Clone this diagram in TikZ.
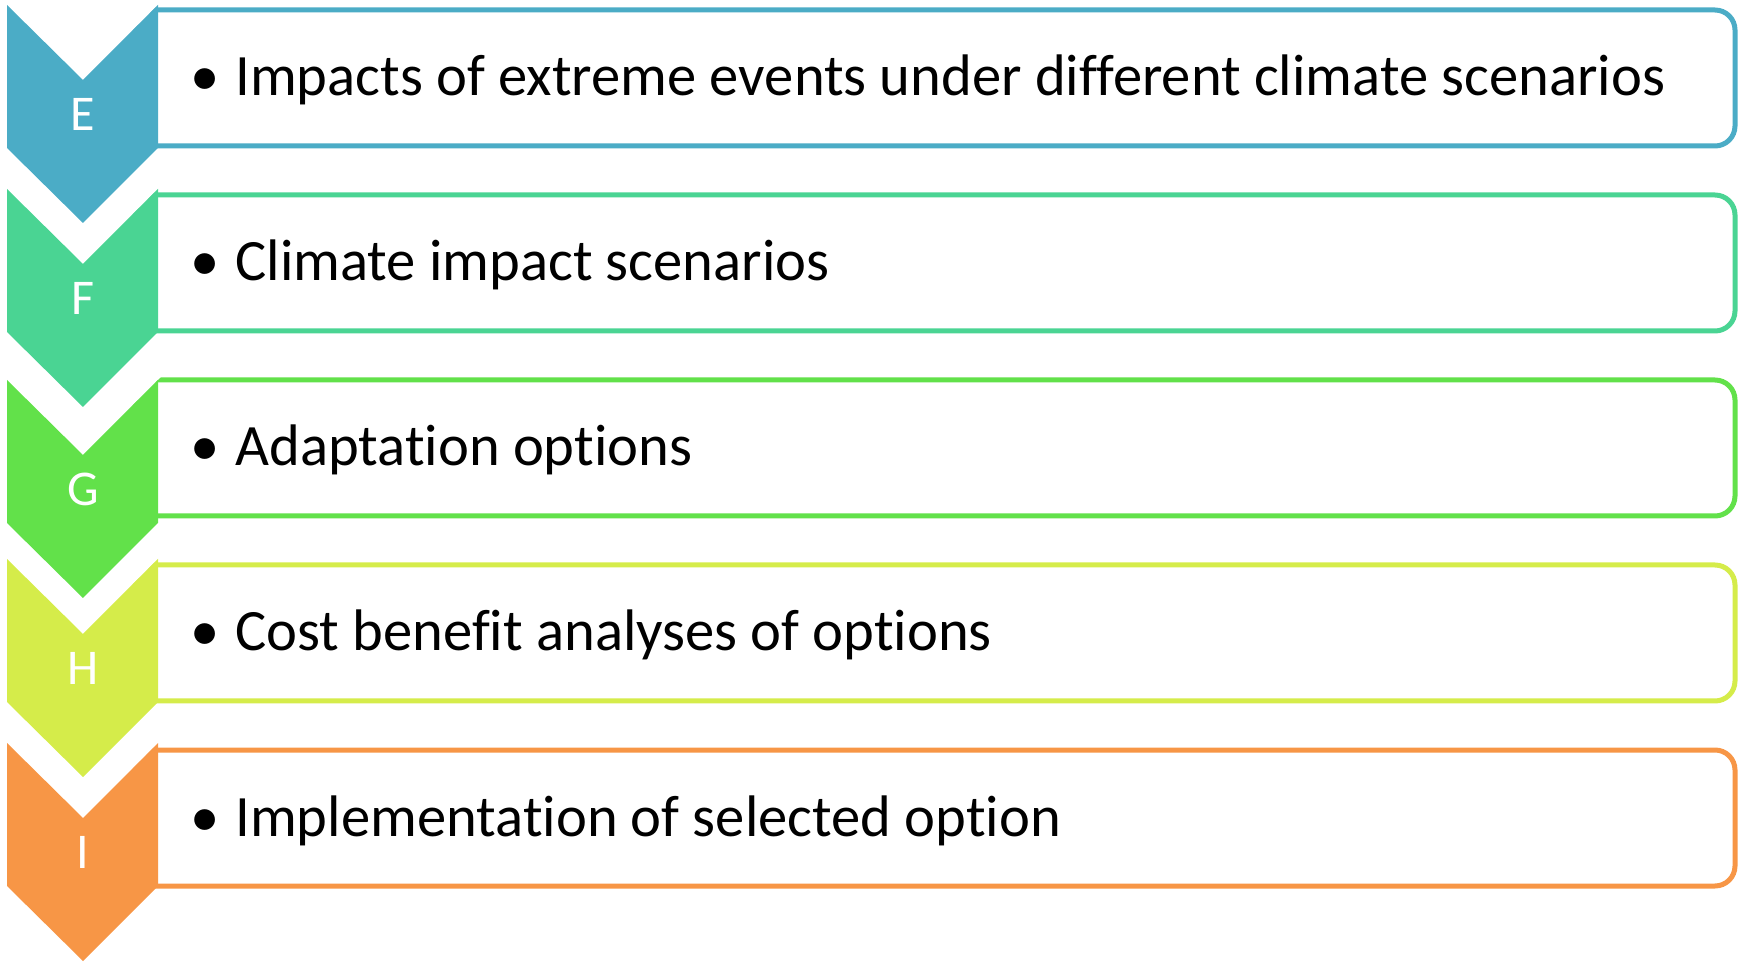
\documentclass[tikz,border=0pt]{standalone}
\usepackage{fontspec}
\setmainfont[Ligatures=NoCommon]{Carlito}

\definecolor{stepE}{HTML}{4BACC6}
\definecolor{stepF}{HTML}{4AD493}
\definecolor{stepG}{HTML}{62E14A}
\definecolor{stepH}{HTML}{D5EC4A}
\definecolor{stepI}{HTML}{F79646}

% chevron: #1 = top, #2 = colour
\newcommand{\stagechevron}[2]{%
  \fill[#2] (7,#1) -- ++(76,75) -- ++(75,-75) -- ++(0,143) -- ++(-75,75) -- ++(-76,-75) -- cycle;}
% white cut above a chevron, hides the box corner
\newcommand{\stagenotch}[1]{%
  \fill[white] (83,#1) ++(0,75) -- ++(80,-80) -- ++(0,-10) -- ++(-60,0) -- cycle;}

\tikzset{
  stagebox/.style={draw=#1, line width=2.5pt, rounded corners=10pt, fill=white,
    minimum width=800pt, minimum height=68pt, inner sep=0pt, outer sep=0pt,
    anchor=north west},
  stagetext/.style={anchor=base west, inner sep=0pt, font=\fontsize{29.3}{34}\selectfont},
  stageletter/.style={text=white, inner sep=0pt, font=\fontsize{25}{30}\selectfont},
}

\begin{document}
\begin{tikzpicture}[x=0.5pt,y=-0.5pt]
  \useasboundingbox (0,0) rectangle (1742,962);

      % boxes
      \node[stagebox=stepE] (boxE) at (135,10)  {};
      \node[stagebox=stepF] (boxF) at (135,195) {};
      \node[stagebox=stepG] (boxG) at (135,380) {};
      \node[stagebox=stepH] (boxH) at (135,565) {};
      \node[stagebox=stepI] (boxI) at (135,750) {};

      \stagenotch{5}
      \stagenotch{189}
      \stagenotch{380}
      \stagenotch{559}
      \stagenotch{743}

      % chevrons
      \stagechevron{5}{stepE}
      \stagechevron{189}{stepF}
      \stagechevron{380}{stepG}
      \stagechevron{559}{stepH}
      \stagechevron{743}{stepI}

      \begin{scope}[every node/.style={stageletter}]
        \node (letE) at (83,114) {E};
        \node (letF) at (83,298) {F};
        \node (letG) at (83,489) {G};
        \node (letH) at (83,668) {H};
        \node (letI) at (83,852) {I};
      \end{scope}

      \begin{scope}[every node/.style={stagetext}]
        \node (txtE) at ([xshift=27.5pt,yshift=-9pt]boxE.west) {\makebox[22.5pt][l]{\textbullet}Impacts of extreme events under different climate scenarios};
        \node (txtF) at ([xshift=27.5pt,yshift=-9pt]boxF.west) {\makebox[22.5pt][l]{\textbullet}Climate impact scenarios};
        \node (txtG) at ([xshift=27.5pt,yshift=-9pt]boxG.west) {\makebox[22.5pt][l]{\textbullet}Adaptation options};
        \node (txtH) at ([xshift=27.5pt,yshift=-9pt]boxH.west) {\makebox[22.5pt][l]{\textbullet}Cost benefit analyses of options};
        \node (txtI) at ([xshift=27.5pt,yshift=-9pt]boxI.west) {\makebox[22.5pt][l]{\textbullet}Implementation of selected option};
      \end{scope}

    \end{tikzpicture}
\end{document}
